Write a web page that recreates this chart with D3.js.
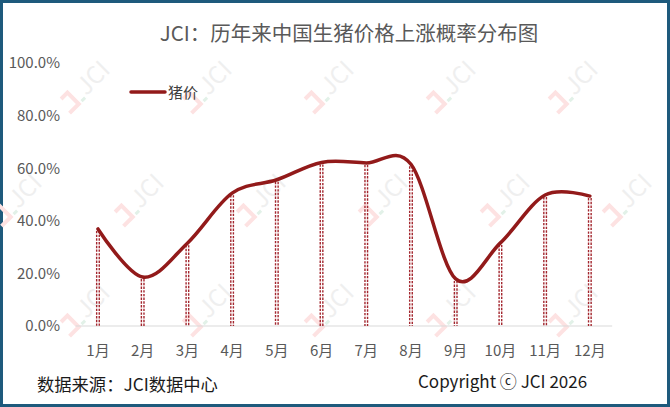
<!DOCTYPE html>
<html>
<head>
<meta charset="utf-8">
<script src="https://cdn.jsdelivr.net/npm/d3@7"></script>
<style>
  html, body { margin: 0; padding: 0; background: #fff; }
  svg { display: block; font-family: "Noto Sans CJK SC", "Noto Sans", sans-serif; }
</style>
</head>
<body>
<div id="chart"></div>
<script>
const months = ['1月', '2月', '3月', '4月', '5月', '6月', '7月', '8月', '9月', '10月', '11月', '12月']
const rise = [0.369, 0.186, 0.315, 0.505, 0.556, 0.622, 0.620, 0.615, 0.179, 0.316, 0.498, 0.494]
const yTicks = [0, 0.2, 0.4, 0.6, 0.8, 1.0]
const seriesName = '猪价'
const title = 'JCI：历年来中国生猪价格上涨概率分布图'
const source = '数据来源：JCI数据中心'
const copyright = 'Copyright ⓒ JCI 2026'

const width = 670, height = 407
const lineColor = '#921a1a'
const dropColor = '#a3262e'
const textColor = '#595959'

const svg = d3.select('#chart').append('svg')
              .attr('width', width)
              .attr('height', height)

// frame
svg.append('rect')
   .attr('x', 1.5).attr('y', 1.5)
   .attr('width', width - 3).attr('height', height - 3)
   .attr('fill', '#fff')
   .attr('stroke', '#1e5a7c')
   .attr('stroke-width', 3)

// watermark tiles
const marks = []
;[87, 310].forEach(y => [83, 205, 327, 449, 571].forEach(x => marks.push([x, y])))
;[15, 137, 259, 381, 503, 625].forEach(x => marks.push([x, 200]))

const wm = svg.append('g').attr('class', 'watermark')
marks.forEach(([x, y]) => {
    const g = wm.append('g').attr('transform', `translate(${x}, ${y}) rotate(-45)`)
    g.append('path')
     .attr('d', 'M-24,-7 L-15,-7 L-15,9 L-28,9')
     .attr('fill', 'none')
     .attr('stroke', '#fde2e2')
     .attr('stroke-width', 4)
    g.append('line')
     .attr('x1', -11).attr('x2', -6).attr('y1', 9).attr('y2', 9)
     .attr('stroke', '#e2f1e8')
     .attr('stroke-width', 3)
    g.append('text')
     .text('JCI')
     .attr('x', -4).attr('y', 9)
     .style('font-size', '24px')
     .style('fill', '#efefef')
})

const xScale = d3.scaleBand().domain(months).range([75.6, 612.2])
const yScale = d3.scaleLinear().domain([0, 1]).range([326, 63])
const cx = m => xScale(m) + xScale.bandwidth() / 2

// title
svg.append('text')
   .text(title)
   .attr('x', 349).attr('y', 41)
   .attr('text-anchor', 'middle')
   .style('font-size', '20.5px')
   .style('fill', textColor)

// y axis labels
const yAxis = svg.append('g')
                 .attr('transform', 'translate(62, 0)')
                 .call(d3.axisLeft(yScale).tickValues(yTicks).tickFormat(d3.format('.1%')).tickSize(0).tickPadding(2))
yAxis.select('.domain').remove()
yAxis.selectAll('text')
     .style('font-size', '15px')
     .style('font-family', '"Noto Sans CJK SC", sans-serif')
     .style('fill', textColor)

// baseline
svg.append('line')
   .attr('x1', 75.6).attr('x2', 612.2)
   .attr('y1', yScale(0)).attr('y2', yScale(0))
   .attr('stroke', '#d9d9d9')
   .attr('stroke-width', 1)

// x axis labels
const xAxis = svg.append('g')
                 .attr('transform', `translate(0, ${yScale(0) + 16})`)
                 .call(d3.axisBottom(xScale).tickSize(0))
xAxis.select('.domain').remove()
xAxis.selectAll('text')
     .style('font-size', '15px')
     .style('font-family', '"Noto Sans CJK SC", sans-serif')
     .style('fill', textColor)

// drop lines (double dotted)
const drops = svg.append('g')
;[-1.3, 1.3].forEach(off => {
    drops.selectAll(null)
         .data(months)
         .join('line')
         .attr('x1', d => cx(d) + off).attr('x2', d => cx(d) + off)
         .attr('y1', (d, i) => yScale(rise[i]) + 2)
         .attr('y2', yScale(0))
         .attr('stroke', dropColor)
         .attr('stroke-width', 1.4)
         .attr('stroke-dasharray', '2.4,1.3')
})

// smoothed line
const line = d3.line()
               .x((d, i) => cx(months[i]))
               .y(d => yScale(d))
               .curve(d3.curveCardinal.tension(0))

svg.append('path')
   .datum(rise)
   .attr('d', line)
   .attr('fill', 'none')
   .attr('stroke', lineColor)
   .attr('stroke-width', 3.5)
   .attr('stroke-linecap', 'round')

// legend
svg.append('line')
   .attr('x1', 131).attr('x2', 165)
   .attr('y1', 92).attr('y2', 92)
   .attr('stroke', lineColor)
   .attr('stroke-width', 3.5)
   .attr('stroke-linecap', 'round')
svg.append('text')
   .text(seriesName)
   .attr('x', 168).attr('y', 97.5)
   .style('font-size', '15px')
   .style('fill', '#404040')

// footer
svg.append('text')
   .text(source)
   .attr('x', 37).attr('y', 391)
   .style('font-size', '17.3px')
   .style('fill', '#1a1a1a')
svg.append('text')
   .text(copyright)
   .attr('x', 418).attr('y', 388)
   .style('font-size', '17px')
   .style('fill', '#1a1a1a')
</script>
</body>
</html>
